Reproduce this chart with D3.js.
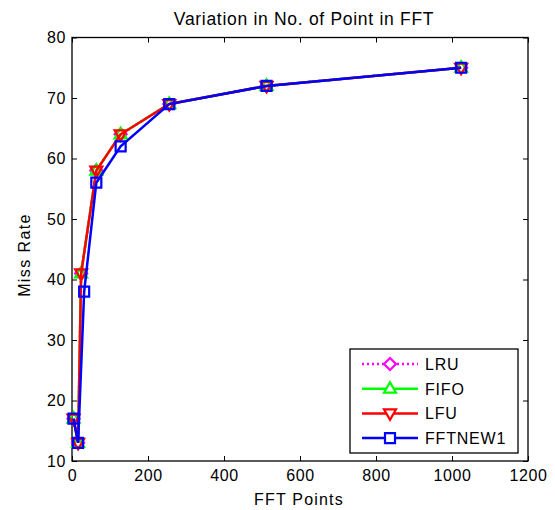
<!DOCTYPE html>
<html lang="en">
<head>
  <meta charset="UTF-8">
  <title>Variation in No. of Point in FFT</title>
  <script src="https://d3js.org/d3.v7.min.js"></script>
  <style>
    body { margin: 0; background: #fff; }
    svg { display: block; }
    text { font-family: "Liberation Sans", Arial, sans-serif; fill: #000; }
  </style>
</head>
<body>
  <svg id="chart"></svg>
  <script>
    // Data
    const fftPoints = [4, 16, 24, 64, 128, 256, 512, 1024];
    const fftPointsNew = [4, 16, 32, 64, 128, 256, 512, 1024];
    const lru = [17, 13, 41, 58, 64, 69, 72, 75];
    const fifo = [17, 13, 41, 58, 64, 69, 72, 75];
    const lfu = [17, 13, 41, 58, 64, 69, 72, 75];
    const fftnew1 = [17, 13, 38, 56, 62, 69, 72, 75];
    const xTicks = [0, 200, 400, 600, 800, 1000, 1200];
    const yTicks = [10, 20, 30, 40, 50, 60, 70, 80];

    const width = 555, height = 510;
    const margin = { top: 37.5, right: 27, bottom: 49, left: 72 };
    const innerW = width - margin.left - margin.right;
    const innerH = height - margin.top - margin.bottom;

    const svg = d3.select("#chart").attr("width", width).attr("height", height);
    const g = svg.append("g").attr("transform", `translate(${margin.left},${margin.top})`);

    const x = d3.scaleLinear().domain([0, 1200]).range([0, innerW]);
    const y = d3.scaleLinear().domain([10, 80]).range([innerH, 0]);

    // axes with inward ticks (box style)
    function styleAxis(sel) {
      sel.select(".domain").remove();
      sel.selectAll("line").attr("stroke", "#000");
      sel.selectAll("text").style("font-size", "16px").style("letter-spacing", "0.6px")
        .style("font-family", "Liberation Sans, Arial, sans-serif");
    }
    g.append("g").attr("transform", `translate(0,${innerH})`)
      .call(d3.axisBottom(x).tickValues(xTicks).tickSize(-5).tickPadding(9).tickFormat(d3.format("d")))
      .call(styleAxis);
    g.append("g")
      .call(d3.axisTop(x).tickValues(xTicks).tickSize(-5).tickFormat(""))
      .call(styleAxis);
    g.append("g")
      .call(d3.axisLeft(y).tickValues(yTicks).tickSize(-5).tickPadding(6).tickFormat(d3.format("d")))
      .call(styleAxis);
    g.append("g").attr("transform", `translate(${innerW},0)`)
      .call(d3.axisRight(y).tickValues(yTicks).tickSize(-5).tickFormat(""))
      .call(styleAxis);
    g.append("rect").attr("width", innerW).attr("height", innerH)
      .attr("fill", "none").attr("stroke", "#000").attr("stroke-width", 1.3);

    const series = [
      { name: "LRU", xs: fftPoints, ys: lru, color: "#ff00ff", marker: "diamond", dash: "2,3" },
      { name: "FIFO", xs: fftPoints, ys: fifo, color: "#00ff00", marker: "up", dash: null },
      { name: "LFU", xs: fftPoints, ys: lfu, color: "#ff0000", marker: "down", dash: null },
      { name: "FFTNEW1", xs: fftPointsNew, ys: fftnew1, color: "#0000ff", marker: "square", dash: null }
    ];

    function markerPath(type) {
      if (type === "diamond") return "M0,-6L6,0L0,6L-6,0Z";
      if (type === "up") return "M0,-6.5L6,4L-6,4Z";
      if (type === "down") return "M0,6.5L6,-4L-6,-4Z";
      return "M-5,-5H5V5H-5Z";
    }

    const line = d3.line().x(d => x(d[0])).y(d => y(d[1]));

    series.forEach(s => {
      const pts = s.xs.map((v, i) => [v, s.ys[i]]);
      g.append("path").datum(pts)
        .attr("d", line)
        .attr("fill", "none")
        .attr("stroke", s.color)
        .attr("stroke-width", 2.5)
        .attr("stroke-dasharray", s.dash);
      g.selectAll(null).data(pts).enter().append("path")
        .attr("transform", d => `translate(${x(d[0])},${y(d[1])})`)
        .attr("d", markerPath(s.marker))
        .attr("fill", "none")
        .attr("stroke", s.color)
        .attr("stroke-width", 2.2);
    });

    // title and axis labels
    svg.append("text").attr("x", 304).attr("y", 25)
      .attr("text-anchor", "middle").style("font-size", "17.5px").style("letter-spacing", "0.7px")
      .text("Variation in No. of Point in FFT");
    svg.append("text").attr("x", 299).attr("y", 505)
      .attr("text-anchor", "middle").style("font-size", "16px").style("letter-spacing", "1.2px")
      .text("FFT Points");
    svg.append("text").attr("transform", "translate(30,255) rotate(-90)")
      .attr("text-anchor", "middle").style("font-size", "16px").style("letter-spacing", "1.4px")
      .text("Miss Rate");

    // legend
    const lg = svg.append("g").attr("transform", "translate(350,349)");
    lg.append("rect").attr("width", 168).attr("height", 104)
      .attr("fill", "#fff").attr("stroke", "#000").attr("stroke-width", 1.3);
    series.forEach((s, i) => {
      const row = lg.append("g").attr("transform", `translate(0,${15 + i * 24.7})`);
      row.append("line").attr("x1", 12).attr("x2", 68)
        .attr("stroke", s.color).attr("stroke-width", 2.5).attr("stroke-dasharray", s.dash);
      row.append("path").attr("transform", "translate(40,0)")
        .attr("d", markerPath(s.marker))
        .attr("fill", "#fff").attr("stroke", s.color).attr("stroke-width", 2.2);
      row.append("text").attr("x", 75).attr("y", 6)
        .style("font-size", "16px").style("letter-spacing", "0.8px")
        .text(s.name);
    });
  </script>
</body>
</html>
